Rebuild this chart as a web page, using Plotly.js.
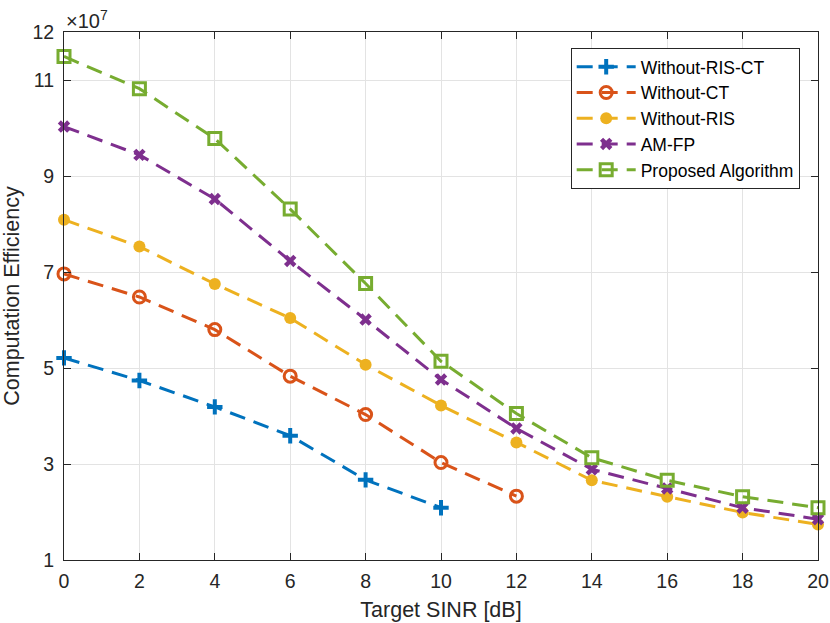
<!DOCTYPE html>
<html>
<head>
<meta charset="utf-8">
<script src="https://cdn.plot.ly/plotly-3.0.1.min.js"></script>
<style>html,body{margin:0;padding:0;background:#fff;}#chart{width:830px;height:623px;}</style>
</head>
<body>
<div id="chart"></div>
<script>
// Values in units of 1e7
const sinr = [0, 2, 4, 6, 8, 10, 12, 14, 16, 18, 20];
const withoutRisCt = [5.21, 4.74, 4.19, 3.59, 2.67, 2.09];
const withoutCt = [6.96, 6.48, 5.80, 4.83, 4.03, 3.03, 2.33];
const withoutRis = [8.09, 7.53, 6.75, 6.04, 5.07, 4.22, 3.45, 2.66, 2.32, 1.99, 1.74];
const amFp = [10.03, 9.44, 8.52, 7.23, 6.01, 4.76, 3.74, 2.89, 2.49, 2.09, 1.85];
const proposed = [11.49, 10.82, 9.78, 8.31, 6.76, 5.14, 4.05, 3.13, 2.66, 2.32, 2.09];
const yTicks = [1, 3, 5, 7, 9, 11, 12];
const xTicks = [0, 2, 4, 6, 8, 10, 12, 14, 16, 18, 20];

const dash = '16px,9px';
function tr(name, y, color, symbol, size, lw) {
  return {
    x: sinr.slice(0, y.length), y: y, name: name, type: 'scatter', mode: 'lines+markers',
    cliponaxis: false,
    line: {color: color, width: 3, dash: dash},
    marker: {symbol: symbol, size: size, color: color,
             line: {color: color, width: lw}}
  };
}
const data = [
  tr('Without-RIS-CT', withoutRisCt, '#0072BD', 'cross-thin-open', 11, 4),
  tr('Without-CT', withoutCt, '#D95319', 'circle-open', 12, 3),
  tr('Without-RIS', withoutRis, '#EDB120', 'circle', 12, 0),
  tr('AM-FP', amFp, '#7E2F8E', 'x', 11, 0),
  tr('Proposed Algorithm', proposed, '#77AC30', 'square-open', 12, 3)
];
const font = {family: 'Liberation Sans, Arial, sans-serif', color: '#262626'};
const layout = {
  width: 830, height: 623,
  margin: {l: 64, r: 12, t: 32, b: 63},
  paper_bgcolor: '#fff', plot_bgcolor: '#fff',
  font: Object.assign({size: 19.5}, font),
  showlegend: true,
  xaxis: {
    range: [0, 20], tickvals: xTicks, ticktext: xTicks.map(String),
    showgrid: true, gridcolor: '#e3e3e3', gridwidth: 1,
    showline: true, linecolor: '#262626', linewidth: 1, mirror: 'ticks',
    ticks: 'inside', ticklen: 7, tickcolor: '#262626',
    zeroline: false, tickfont: {size: 19.5}, ticklabelstandoff: 4,
    title: {text: 'Target SINR [dB]', font: {size: 21.5}, standoff: 10}
  },
  yaxis: {
    range: [1, 12], tickvals: yTicks, ticktext: yTicks.map(String),
    showgrid: true, gridcolor: '#e3e3e3', gridwidth: 1,
    showline: true, linecolor: '#262626', linewidth: 1, mirror: 'ticks',
    ticks: 'inside', ticklen: 7, tickcolor: '#262626',
    zeroline: false, tickfont: {size: 19.5}, ticklabelstandoff: 5,
    title: {text: 'Computation Efficiency', font: {size: 21.5}, standoff: 6}
  },
  legend: {
    x: 0.672, y: 0.97, xanchor: 'left', yanchor: 'top',
    bgcolor: '#fff', bordercolor: '#262626', borderwidth: 1,
    font: {size: 17.5, family: font.family, color: '#000'},
    tracegroupgap: 0, itemwidth: 59
  },
  annotations: [{
    text: '×10<sup>7</sup>', xref: 'paper', yref: 'paper', x: 0, y: 1,
    xanchor: 'left', yanchor: 'bottom', showarrow: false, yshift: -2,
    font: {size: 20, family: font.family, color: '#262626'}
  }]
};
Plotly.newPlot('chart', data, layout, {staticPlot: true});
</script>
</body>
</html>
